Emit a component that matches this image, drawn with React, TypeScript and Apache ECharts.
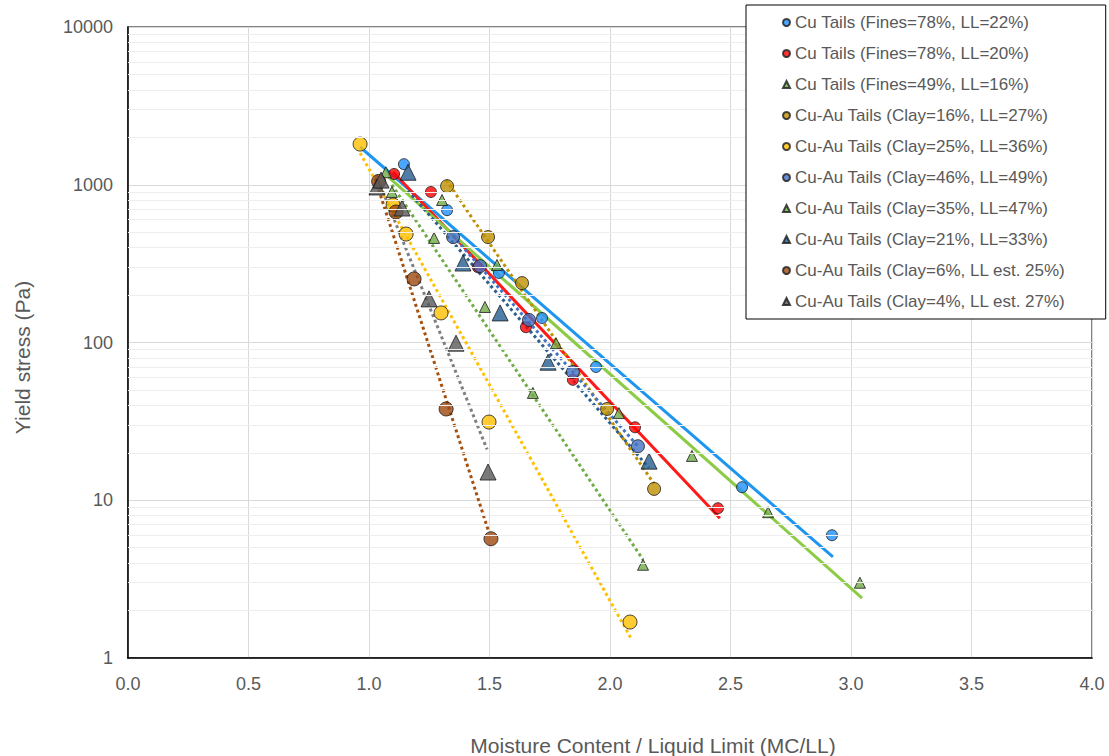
import React, { useEffect, useRef } from "react";
import * as echarts from "echarts";

// ---- Data (x = MC/LL, y = yield stress Pa) ----
const seriesNames = [
  "Cu Tails (Fines=78%, LL=22%)",
  "Cu Tails (Fines=78%, LL=20%)",
  "Cu Tails (Fines=49%, LL=16%)",
  "Cu-Au Tails (Clay=16%, LL=27%)",
  "Cu-Au Tails (Clay=25%, LL=36%)",
  "Cu-Au Tails (Clay=46%, LL=49%)",
  "Cu-Au Tails (Clay=35%, LL=47%)",
  "Cu-Au Tails (Clay=21%, LL=33%)",
  "Cu-Au Tails (Clay=6%, LL est. 25%)",
  "Cu-Au Tails (Clay=4%, LL est. 27%)",
];

const cu22 = [[1.145, 1350], [1.324, 690], [1.539, 276], [1.718, 143], [1.942, 70], [2.548, 12.1], [2.921, 6.0]];
const cu20 = [[1.104, 1170], [1.257, 900], [1.452, 300], [1.651, 125], [1.846, 58], [2.104, 29], [2.448, 8.9]];
const cu49 = [[1.07, 1200], [1.303, 800], [1.531, 310], [1.776, 99], [2.037, 35.7], [2.34, 19.1], [2.656, 8.4], [3.037, 3.0]];
const clay16 = [[1.324, 980], [1.494, 466], [1.635, 238], [1.988, 37.9], [2.183, 11.8]];
const clay25 = [[0.963, 1810], [1.1, 744], [1.154, 487], [1.299, 154], [1.498, 31.3], [2.083, 1.69]];
const clay46 = [[1.349, 466], [1.461, 305], [1.664, 139], [1.846, 65], [2.116, 22]];
const clay35 = [[1.095, 900], [1.27, 460], [1.481, 168], [1.68, 47.9], [2.137, 3.9]];
const clay21 = [[1.162, 1200], [1.39, 319], [1.544, 154], [1.743, 75], [2.162, 17.7]];
const clay6 = [[1.04, 1050], [1.112, 672], [1.187, 253], [1.32, 37.9], [1.506, 5.7]];
const clay4 = [[1.033, 968], [1.05, 1070], [1.137, 712], [1.249, 189], [1.361, 99], [1.494, 15.1]];

// Trendline end points (exponential fits, straight on log axis)
const trendCu22 = [[0.963, 1735], [2.925, 4.37]];
const trendCu20 = [[1.1, 1205], [2.456, 7.7]];
const trendCu49 = [[1.08, 1120], [3.046, 2.4]];
const trendClay16 = [[1.32, 1072], [2.183, 12.7]];
const trendClay25 = [[0.963, 1590], [2.091, 1.3]];
const trendClay46 = [[1.349, 474], [2.116, 22]];
const trendClay35 = [[1.095, 1000], [2.137, 4.2]];
const trendClay21 = [[1.162, 918], [2.162, 16]];
const trendClay6 = [[1.025, 1100], [1.494, 6.5]];
const trendClay4 = [[1.03, 1150], [1.49, 21]];

const minorYLines = [
  2, 3, 4, 5, 6, 7, 8, 9,
  20, 30, 40, 50, 60, 70, 80, 90,
  200, 300, 400, 500, 600, 700, 800, 900,
  2000, 3000, 4000, 5000, 6000, 7000, 8000, 9000,
];

const FONT = "'Liberation Sans', Arial, sans-serif";
const EDGE = "#1a1a1a";

function scatter(name: string, data: number[][], color: string, symbol: string, size: number) {
  return {
    type: "scatter",
    name,
    data,
    symbol,
    symbolSize: size,
    z: 4,
    itemStyle: { color, borderColor: EDGE, borderWidth: 1 },
  };
}

function trend(data: number[][], color: string, dotted: boolean, width: number) {
  return {
    type: "line",
    name: "_trend",
    data,
    symbol: "none",
    silent: true,
    z: 3,
    lineStyle: { color, width, type: dotted ? [3, 3] : "solid", cap: "butt" },
  };
}

export default function App() {
  const ref = useRef<HTMLDivElement>(null);
  useEffect(() => {
    document.body.style.margin = "0";
    if (!ref.current) return;
    const chart = echarts.init(ref.current, undefined, { renderer: "svg" });
    const option = {
      animation: false,
      backgroundColor: "#ffffff",
      textStyle: { fontFamily: FONT },
      grid: {
        left: 128,
        right: 17,
        top: 27,
        bottom: 98,
        outerBoundsMode: "none",
        containLabel: false,
        show: true,
        borderColor: "#595959",
        borderWidth: 1.5,
        backgroundColor: "transparent",
      },
      legend: {
        orient: "vertical",
        left: 746,
        top: 5,
        backgroundColor: "#ffffff",
        borderColor: "#000000",
        borderWidth: 1,
        padding: [9, 40, 9, 36],
        itemGap: 14,
        itemWidth: 7,
        itemHeight: 7,
        z: 10,
        textStyle: { fontFamily: FONT, fontSize: 17, color: "#595959", lineHeight: 17 },
        data: seriesNames,
      },
      xAxis: {
        type: "value",
        min: 0,
        max: 4,
        interval: 0.5,
        name: "Moisture Content / Liquid Limit (MC/LL)",
        nameLocation: "middle",
        nameGap: 77,
        nameTextStyle: { fontFamily: FONT, fontSize: 21, color: "#595959", padding: [0, 0, 0, 86] },
        axisLine: { show: true, lineStyle: { color: "#000000", width: 1.5 } },
        axisTick: { show: false },
        axisLabel: {
          fontFamily: FONT,
          fontSize: 18,
          color: "#595959",
          margin: 17,
          formatter: (v: number) => v.toFixed(1),
        },
        splitLine: { show: true, lineStyle: { color: "#D9D9D9", width: 1 } },
      },
      yAxis: {
        type: "log",
        logBase: 10,
        min: 1,
        max: 10000,
        name: "Yield stress (Pa)",
        nameLocation: "middle",
        nameGap: 95,
        nameTextStyle: { fontFamily: FONT, fontSize: 21, color: "#595959", padding: [0, 30, 0, 0] },
        axisLine: { show: true, lineStyle: { color: "#000000", width: 1.5 } },
        axisTick: { show: false },
        axisLabel: {
          fontFamily: FONT,
          fontSize: 18,
          color: "#595959",
          margin: 15,
          formatter: (v: number) => String(Math.round(v)),
        },
        splitLine: { show: true, lineStyle: { color: "#D9D9D9", width: 1 } },
      },
      series: [
        {
          type: "line",
          name: "_minor",
          data: [],
          silent: true,
          z: 1,
          markLine: {
            silent: true,
            symbol: ["none", "none"],
            label: { show: false },
            lineStyle: { color: "#EEEEEE", type: "solid", width: 1 },
            emphasis: { disabled: true },
            data: minorYLines.map((v) => ({ yAxis: v })),
          },
        },
        trend(trendCu22, "#1E96F0", false, 3),
        trend(trendCu20, "#FF1A1A", false, 3),
        trend(trendCu49, "#8CCB45", false, 3),
        trend(trendClay16, "#BF9000", true, 3),
        trend(trendClay25, "#FFC000", true, 3),
        trend(trendClay46, "#4472C4", true, 3),
        trend(trendClay35, "#70AD47", true, 3),
        trend(trendClay21, "#2E5E8C", true, 3),
        trend(trendClay6, "#A5500F", true, 3),
        trend(trendClay4, "#7F7F7F", true, 3),
        scatter(seriesNames[0], cu22, "#1E90FF", "circle", 11),
        scatter(seriesNames[1], cu20, "#FF0000", "circle", 11),
        scatter(seriesNames[2], cu49, "#70AD47", "triangle", 11),
        scatter(seriesNames[3], clay16, "#BF9000", "circle", 13),
        scatter(seriesNames[4], clay25, "#FFC000", "circle", 14),
        scatter(seriesNames[5], clay46, "#4472C4", "circle", 13),
        scatter(seriesNames[6], clay35, "#70AD47", "triangle", 11),
        scatter(seriesNames[7], clay21, "#255E91", "triangle", 16),
        scatter(seriesNames[8], clay6, "#9E480E", "circle", 14),
        scatter(seriesNames[9], clay4, "#595959", "triangle", 16),
      ],
    };
    chart.setOption(option as any);
    return () => chart.dispose();
  }, []);
  return <div ref={ref} style={{ width: 1109, height: 756 }} />;
}
